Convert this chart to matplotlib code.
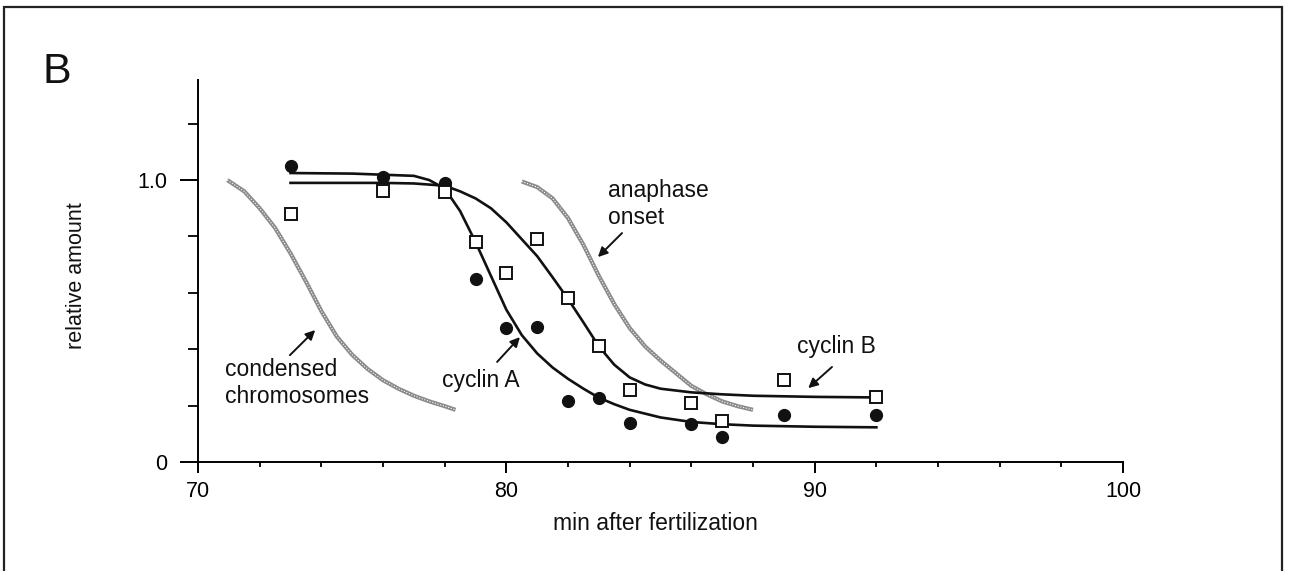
import matplotlib
matplotlib.use("Agg")
import matplotlib.pyplot as plt
from matplotlib.patches import Rectangle

plt.rcParams['font.family'] = ['Liberation Sans', 'DejaVu Sans']

# measured points
time_pts = [73, 76, 78, 79, 80, 81, 82, 83, 84, 86, 87, 89, 92]
cyclin_a = [1.05, 1.01, 0.99, 0.65, 0.475, 0.48, 0.215, 0.228, 0.14, 0.135, 0.09, 0.165, 0.165]
cyclin_b = [0.88, 0.96, 0.957, 0.78, 0.67, 0.79, 0.58, 0.41, 0.255, 0.21, 0.145, 0.29, 0.23]

# fitted curves
fit_a_x = [73, 75, 77, 77.5, 78, 78.5, 79, 79.5, 80, 80.5, 81, 81.5, 82, 82.5, 83, 83.5,
           84, 85, 86, 87, 88, 90, 92]
fit_a_y = [1.025, 1.023, 1.015, 1.0, 0.97, 0.89, 0.78, 0.66, 0.54, 0.45, 0.385, 0.335,
           0.295, 0.26, 0.228, 0.205, 0.185, 0.158, 0.142, 0.134, 0.129, 0.125, 0.123]
fit_b_x = [73, 76, 77, 78, 78.5, 79, 79.5, 80, 80.5, 81, 81.5, 82, 82.5, 83, 83.5, 84,
           84.5, 85, 86, 87, 88, 90, 92]
fit_b_y = [0.99, 0.99, 0.988, 0.98, 0.96, 0.935, 0.90, 0.85, 0.79, 0.73, 0.655, 0.578,
           0.495, 0.41, 0.345, 0.30, 0.275, 0.26, 0.247, 0.24, 0.235, 0.231, 0.229]

# gray reference curves
chrom_x = [70.95, 71.5, 72, 72.5, 73, 73.5, 74, 74.5, 75, 75.5, 76, 76.5, 77, 77.5, 78, 78.35]
chrom_y = [1.0, 0.96, 0.9, 0.83, 0.74, 0.64, 0.535, 0.445, 0.38, 0.33, 0.29, 0.26, 0.235,
           0.215, 0.198, 0.185]
ana_x = [80.5, 81, 81.5, 82, 82.5, 83, 83.5, 84, 84.5, 85, 85.5, 86, 86.5, 87, 87.5, 88]
ana_y = [0.995, 0.975, 0.935, 0.865, 0.77, 0.66, 0.56, 0.475, 0.41, 0.36, 0.315, 0.27,
         0.24, 0.215, 0.198, 0.185]

fig = plt.figure(figsize=(12.91, 5.71), dpi=100)
ax = fig.add_axes([0.1534, 0.1909, 0.7165, 0.669])

# gray curves with a bit of texture
for cx, cy in [(chrom_x, chrom_y), (ana_x, ana_y)]:
    ax.plot(cx, cy, color='#8a8a8a', lw=3, solid_capstyle='butt', zorder=1)
    ax.plot(cx, cy, color='white', lw=0.8, ls=(0, (1, 1.5)), zorder=1.1)

ax.plot(fit_a_x, fit_a_y, color='#111111', lw=1.9, zorder=2)
ax.plot(fit_b_x, fit_b_y, color='#111111', lw=1.9, zorder=2)

ax.plot(time_pts, cyclin_a, 'o', color='#111111', ms=8.5, zorder=3)
ax.plot(time_pts, cyclin_b, 's', mfc='white', mec='#111111', ms=9, mew=1.4, zorder=4)

arrow = dict(arrowstyle='-|>', color='#111111', lw=1.4, mutation_scale=14,
             shrinkA=0, shrinkB=0)
txt = dict(fontsize=16.5, color='#111111')

ax.text(70.88, 0.28, 'condensed\nchromosomes', ha='left', va='center', linespacing=1.25, **txt)
ax.annotate('', xy=(73.8, 0.468), xytext=(72.98, 0.379), arrowprops=arrow)

ax.text(77.91, 0.29, 'cyclin A', ha='left', va='center', **txt)
ax.annotate('', xy=(80.44, 0.443), xytext=(79.7, 0.355), arrowprops=arrow)

ax.text(83.3, 0.915, 'anaphase\nonset', ha='left', va='center', linespacing=1.25, **txt)
ax.annotate('', xy=(82.97, 0.727), xytext=(83.75, 0.812), arrowprops=arrow)

ax.text(89.43, 0.408, 'cyclin B', ha='left', va='center', **txt)
ax.annotate('', xy=(89.79, 0.262), xytext=(90.56, 0.337), arrowprops=arrow)

ax.set_xlim(70, 100)
ax.set_ylim(0, 1.355)
ax.spines['top'].set_visible(False)
ax.spines['right'].set_visible(False)
ax.spines['left'].set_linewidth(1.4)
ax.spines['bottom'].set_linewidth(1.4)

ax.set_xticks([70, 80, 90, 100])
ax.set_xticks([72, 74, 76, 78, 82, 84, 86, 88, 92, 94, 96, 98], minor=True)
ax.set_yticks([0, 1.0])
ax.set_yticklabels(['0', '1.0'])
ax.set_yticks([0.2, 0.4, 0.6, 0.8, 1.2], minor=True)

ax.tick_params(axis='x', which='major', direction='out', length=8, width=1.4,
               pad=6, labelsize=15.5)
ax.tick_params(axis='x', which='minor', direction='out', length=3.6, width=1.3)
ax.tick_params(axis='y', which='major', direction='out', length=13, width=1.4,
               pad=9, labelsize=15.5)
ax.tick_params(axis='y', which='minor', direction='out', length=7.2, width=1.3)

fig.text(0.508, 0.083, 'min after fertilization', ha='center', va='center',
         fontsize=16.5, color='#111111')
fig.text(0.059, 0.518, 'relative amount', ha='center', va='center', rotation=90,
         fontsize=15.5, color='#111111')
fig.text(0.033, 0.855, 'B', ha='left', va='baseline', fontsize=31, color='#111111')

# panel frame (bottom edge is cut off in the original)
fig.add_artist(Rectangle((4 / 1291, -0.2), (1282 - 4) / 1291, 1 - 7 / 571 + 0.2,
                         fill=False, lw=1.6, edgecolor='#222222',
                         transform=fig.transFigure))

fig.savefig('out.png', dpi=100)
